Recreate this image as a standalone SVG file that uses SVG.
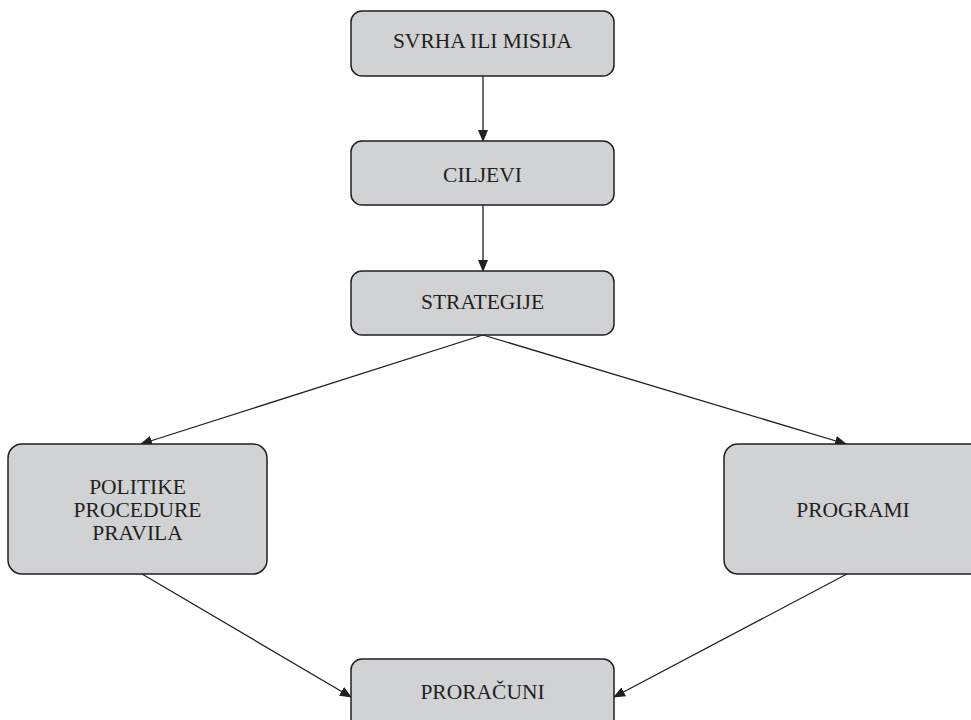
<svg xmlns="http://www.w3.org/2000/svg" width="971" height="720" viewBox="0 0 971 720">
<style>
.box{fill:#d1d2d4;stroke:#231f20;stroke-width:1.5}
.lbl{font-family:"Liberation Serif","Times New Roman",serif;font-size:21.5px;fill:#231f20;text-anchor:middle}
.con{stroke:#231f20;stroke-width:1.3;fill:none;marker-end:url(#ah)}
</style>
<defs>
<marker id="ah" markerWidth="12" markerHeight="10" refX="11" refY="5" orient="auto" markerUnits="userSpaceOnUse">
<path d="M0,0 L12,5 L0,10 Z" fill="#231f20"/>
</marker>
</defs>
<rect width="971" height="720" fill="#ffffff"/>
<g id="connectors">
<line class="con" x1="483" y1="76" x2="483" y2="141"/>
<line class="con" x1="483" y1="205" x2="483" y2="271"/>
<line class="con" x1="483" y1="335" x2="141" y2="444"/>
<line class="con" x1="483" y1="335" x2="846" y2="444"/>
<line class="con" x1="142" y1="574" x2="351" y2="697"/>
<line class="con" x1="847" y1="574" x2="614" y2="697"/>
</g>
<g id="svrha">
<rect class="box" x="351" y="11" width="263" height="65" rx="11"/>
<text class="lbl" x="482.5" y="47.5">SVRHA ILI MISIJA</text>
</g>
<g id="ciljevi">
<rect class="box" x="351" y="141" width="263" height="64" rx="11"/>
<text class="lbl" x="482.5" y="182">CILJEVI</text>
</g>
<g id="strategije">
<rect class="box" x="351" y="271" width="263" height="64" rx="11"/>
<text class="lbl" x="482.5" y="309">STRATEGIJE</text>
</g>
<g id="politike">
<rect class="box" x="8" y="444" width="259" height="130" rx="14"/>
<text class="lbl" x="137.5" y="494">POLITIKE</text>
<text class="lbl" x="137.5" y="517">PROCEDURE</text>
<text class="lbl" x="137.5" y="539.5">PRAVILA</text>
</g>
<g id="programi">
<rect class="box" x="724" y="444" width="262" height="130" rx="14"/>
<text class="lbl" x="853" y="517">PROGRAMI</text>
</g>
<g id="proracuni">
<rect class="box" x="351" y="659" width="263" height="80" rx="11"/>
<text class="lbl" x="482.5" y="699">PRORAČUNI</text>
</g>
</svg>
